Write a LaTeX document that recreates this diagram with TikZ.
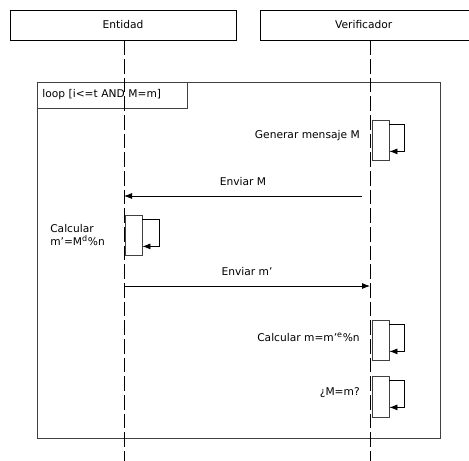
\documentclass[tikz,border=0pt]{standalone}
\usepackage{fontspec}
\setmainfont{DejaVu Sans}
\usepackage{tikz}
\usetikzlibrary{arrows.meta}
\definecolor{linegray}{HTML}{404040}
\tikzset{
  >={Latex[length=6pt,width=4.5pt]},
  msg/.style={draw=black, ->, line width=0.6pt},
  lifeline/.style={draw=black, line width=0.6pt, dash pattern=on 11pt off 3pt},
  headbox/.style={
    draw=black,
    line width=0.6pt,
    minimum height=22.5pt,
    inner sep=0pt,
    font=\fontsize{8}{10}\selectfont
  },
  actbox/.style={draw=linegray, fill=white, line width=0.6pt,
    minimum width=12.75pt, minimum height=30pt, inner sep=0pt},
  frame/.style={draw=linegray, line width=0.6pt, inner sep=0pt},
  lbl/.style={font=\fontsize{8}{10}\selectfont, inner sep=0pt}
}

\begin{document}
\begin{tikzpicture}[x=0.75pt,y=-0.75pt]
  \path[use as bounding box] (0,0) rectangle (469,461);

  % loop frame
  \node[frame, minimum width=302.25pt, minimum height=267pt] (loopframe) at (238.5,260) {};
  \node[frame, lbl, anchor=north west, minimum width=113pt, minimum height=19.5pt,
    text width=105pt, inner xsep=4pt, align=left] (looptag) at (loopframe.north west)
    {loop [i<=t AND M=m]};

  % participants
  \node[headbox, minimum width=169.5pt] (ent) at (123,25) {Entidad};
  \node[headbox, minimum width=165pt, anchor=west] (ver) at (260,25) {\hspace*{-10pt}Verificador};

  \coordinate (entend) at (124,461);
  \coordinate (verend) at (370,461);
  \draw[lifeline] (ent.south -| entend) -- (entend);
  \draw[lifeline] (ver.south -| verend) -- (verend);

  % activations
  \node[actbox] (gen) at (380.5,140) {};
  \node[actbox] (calcd) at (133.5,235) {};
  \node[actbox] (calce) at (380.5,340) {};
  \node[actbox, minimum height=30.75pt] (check) at (380.5,396.5) {};

  \node[lbl, anchor=east] (genlbl) at (360,136) {Generar mensaje M};
  \node[lbl, anchor=west, align=left] (calcdlbl) at (50,235)
    {Calcular\\m'=M\textsuperscript{d}\%n};
  \node[lbl, anchor=east] (calcelbl) at (360,337) {Calcular m=m'\textsuperscript{e}\%n};
  \node[lbl, anchor=east] (checklbl) at (360,393) {¿M=m?};

  \draw[msg] ([yshift=-3.75pt]gen.north east) -- ++(15,0) |- ([yshift=6.75pt]gen.south east);
  \draw[msg] ([yshift=-3.75pt]calcd.north east) -- ++(17,0) |- ([yshift=6.75pt]calcd.south east);
  \draw[msg] ([yshift=-3.75pt]calce.north east) -- ++(15,0) |- ([yshift=6.75pt]calce.south east);
  \draw[msg] ([yshift=-3.75pt]check.north east) -- ++(15,0) |- ([yshift=7.5pt]check.south east);

  % messages
  \coordinate (sendM) at (362,196);
  \coordinate (sendm) at (124,286);
  \draw[msg] (sendM) -- node[lbl, above=7.5pt] (msgM) {Enviar M} (sendM -| entend);
  \draw[msg] (sendm) -- node[lbl, above=7.5pt] (msgm) {Enviar m'} (sendm -| verend);
\end{tikzpicture}
\end{document}
